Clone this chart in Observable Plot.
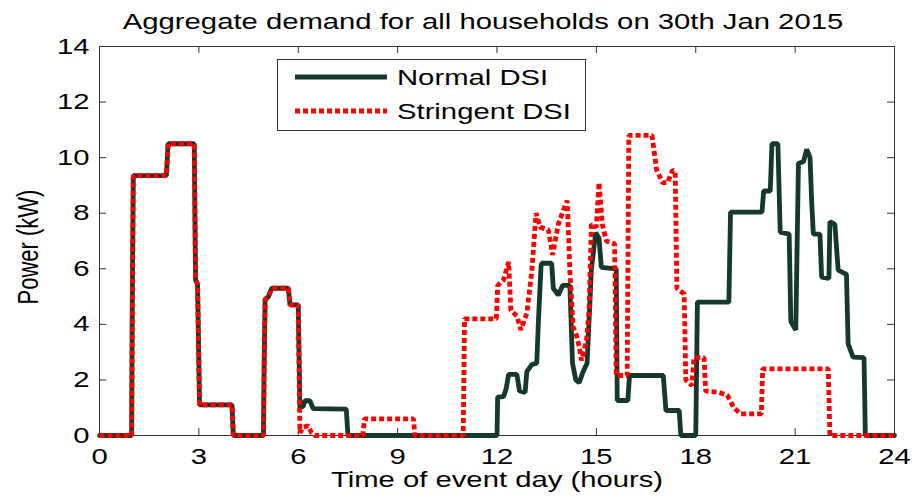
<!DOCTYPE html>
<html>
<head>
<meta charset="utf-8">
<script src="https://cdn.jsdelivr.net/npm/d3@7"></script>
<script src="https://cdn.jsdelivr.net/npm/@observablehq/plot@0.6"></script>
<style>
  body { margin: 0; background: #fff; }
  #chart svg { display: block; }
</style>
</head>
<body>
<div id="chart"></div>
<script>
// Aggregate household demand (kW) over the event day, two DSI settings.
const titleText = "Aggregate demand for all households on 30th Jan 2015";
const xLabel = "Time of event day (hours)";
const yLabel = "Power (kW)";
const seriesNames = ["Normal DSI", "Stringent DSI"];

const xTicks = [0, 3, 6, 9, 12, 15, 18, 21, 24];
const yTicks = [0, 2, 4, 6, 8, 10, 12, 14];

// Normal DSI: hour of day and aggregate power
const normalHour = [
  0, 0.97, 0.99, 1.02, 2.02, 2.07, 2.86, 2.9, 2.96, 3.02, 4.0, 4.04, 4.95, 4.97, 5.0, 5.1, 5.2, 5.7, 5.75, 6.0,
  6.05, 6.15, 6.2, 6.35, 6.45, 7.45, 7.5, 12.0, 12.02, 12.2, 12.28, 12.35, 12.6, 12.68, 12.85, 12.9, 13.05, 13.2,
  13.25, 13.33, 13.35, 13.65, 13.7, 13.85, 13.98, 14.2, 14.28, 14.38, 14.48, 14.6, 14.72, 14.85, 14.98, 15.08,
  15.15, 15.6, 15.63, 15.95, 16.0, 17.02, 17.1, 17.5, 17.55, 18.0, 18.05, 19.0, 19.05, 20.0, 20.05, 20.25, 20.3,
  20.48, 20.55, 20.82, 20.87, 21.02, 21.1, 21.25, 21.35, 21.45, 21.5, 21.55, 21.75, 21.8, 22.02, 22.05, 22.2,
  22.3, 22.55, 22.6, 22.75, 23.08, 23.12, 24
];
const normalPower = [
  0, 0, 4.7, 9.35, 9.35, 10.5, 10.5, 5.6, 5.45, 1.1, 1.1, 0, 0, 2.5, 4.9, 5.0, 5.3, 5.3, 4.7, 4.7,
  1.0, 1.05, 1.25, 1.25, 0.97, 0.95, 0, 0, 1.38, 1.4, 1.7, 2.2, 2.2, 1.6, 1.55, 2.3, 2.55, 2.6,
  4.1, 6.1, 6.2, 6.2, 5.3, 5.05, 5.4, 5.4, 2.6, 2.0, 1.9, 2.3, 2.6, 6.0, 7.3, 7.1,
  6.05, 6.0, 1.26, 1.26, 2.16, 2.16, 0.9, 0.9, 0, 0, 4.8, 4.8, 8.04, 8.04, 8.8, 8.8, 10.5,
  10.5, 7.32, 7.25, 4.1, 3.8, 9.8, 9.85, 10.3, 10.0, 8.4, 7.25, 7.25, 5.7, 5.65, 7.7, 7.6,
  5.95, 5.8, 3.3, 2.82, 2.8, 0, 0
];

// Stringent DSI: hour of day and aggregate power
const stringentHour = [
  0, 0.97, 0.99, 1.02, 2.02, 2.07, 2.86, 2.9, 2.96, 3.02, 4.0, 4.04, 4.95, 4.97, 5.0, 5.1, 5.2, 5.7, 5.75, 6.0,
  6.05, 6.15, 6.3, 6.4, 6.5, 7.95, 8.0, 9.48, 9.52, 10.98, 11.02, 11.98, 12.02, 12.2, 12.35, 12.42, 12.6, 12.72,
  12.9, 13.05, 13.18, 13.3, 13.55, 13.68, 13.85, 14.0, 14.12, 14.2, 14.3, 14.4, 14.48, 14.55, 14.7, 14.78, 14.85,
  15.0, 15.08, 15.18, 15.3, 15.55, 15.6, 15.93, 15.98, 16.68, 16.82, 17.0, 17.15, 17.3, 17.38, 17.43, 17.65,
  17.7, 17.88, 17.95, 18.25, 18.3, 18.7, 18.95, 19.15, 19.35, 19.98, 20.02, 22.0, 22.05, 24
];
const stringentPower = [
  0, 0, 4.7, 9.35, 9.35, 10.5, 10.5, 5.6, 5.45, 1.1, 1.1, 0, 0, 2.5, 4.9, 5.0, 5.3, 5.3, 4.7, 4.7,
  0.1, 0.3, 0.35, 0.1, 0, 0, 0.6, 0.6, 0, 0, 4.2, 4.2, 5.4, 5.6, 6.25, 4.5, 4.3, 3.8,
  4.4, 5.9, 8.0, 7.5, 7.4, 6.5, 7.6, 8.1, 8.45, 5.9, 3.9, 3.6, 3.2, 2.7, 3.4, 4.5, 7.6,
  7.5, 9.1, 7.6, 7.0, 6.9, 2.16, 2.16, 10.8, 10.8, 9.55, 9.1, 9.1, 9.55, 9.5, 5.3, 5.1,
  2.0, 1.8, 2.8, 2.8, 1.6, 1.55, 1.45, 1.0, 0.78, 0.78, 2.4, 2.4, 0, 0
];

const normal = normalHour.map((h, i) => ({hour: h, kw: normalPower[i]}));
const stringent = stringentHour.map((h, i) => ({hour: h, kw: stringentPower[i]}));

const W = 918, H = 504;
const mTop = 46, mBottom = 69, mLeft = 99, mRight = 24;
const frameW = W - mLeft - mRight;
const frameH = H - mTop - mBottom;
const tickLen = 7;
const axisColor = "#333";
const green = "#15392a";
const red = "#ff0000";
const lineW = 4.8;
const dash = "5,3";
const fontFamily = "'Liberation Sans', Arial, Helvetica, sans-serif";
const stretch = 1.33; // glyphs are drawn wide

const chart = Plot.plot({
  width: W,
  height: H,
  marginTop: mTop,
  marginBottom: mBottom,
  marginLeft: mLeft,
  marginRight: mRight,
  style: {fontFamily, fontSize: "22px", color: "#000", background: "#fff", overflow: "visible"},
  x: {domain: [0, 24]},
  y: {domain: [0, 14]},
  marks: [
    Plot.axisX(xTicks, {tickSize: 0, tickPadding: 13, label: null, tickFormat: d => String(d), fill: "#000"}),
    Plot.axisY(yTicks, {tickSize: 0, tickPadding: 10, label: null, tickFormat: d => String(d), fill: "#000"}),
    // inward ticks on all four sides of the box
    Plot.tickX(xTicks, {x: d => d, insetTop: frameH - tickLen, stroke: axisColor}),
    Plot.tickX(xTicks, {x: d => d, insetBottom: frameH - tickLen, stroke: axisColor}),
    Plot.tickY(yTicks, {y: d => d, insetRight: frameW - tickLen, stroke: axisColor}),
    Plot.tickY(yTicks, {y: d => d, insetLeft: frameW - tickLen, stroke: axisColor}),
    Plot.frame({stroke: axisColor, strokeWidth: 1}),
    Plot.line(normal, {x: "hour", y: "kw", stroke: green, strokeWidth: lineW, strokeLinejoin: "miter"}),
    Plot.line(stringent, {x: "hour", y: "kw", stroke: red, strokeWidth: lineW,
      strokeDasharray: dash, strokeLinecap: "butt", strokeLinejoin: "miter"}),
    Plot.text([xLabel], {text: d => d, frameAnchor: "bottom", dy: 51, lineAnchor: "bottom", fill: "#000"}),
    Plot.text([yLabel], {text: d => d, frameAnchor: "left", textAnchor: "middle", rotate: -90,
      dx: -62, dy: 6, lineAnchor: "bottom", fill: "#000"}),
    Plot.text([titleText], {text: d => d, frameAnchor: "top", textAnchor: "middle",
      dx: -14, dy: -18, lineAnchor: "bottom", fill: "#000"})
  ]
});

// Legend box in the upper-left of the plotting area
const svg = d3.select(chart);
const lg = svg.append("g").attr("class", "legend")
  .attr("font-family", fontFamily).attr("font-size", 22).attr("text-anchor", "start");
lg.append("rect").attr("x", 277.5).attr("y", 59.5).attr("width", 308).attr("height", 71)
  .attr("fill", "#fff").attr("stroke", axisColor);
const legendRows = [
  {name: seriesNames[0], color: green, dash: null, y: 77},
  {name: seriesNames[1], color: red, dash: dash, y: 111}
];
for (const r of legendRows) {
  lg.append("line").attr("x1", 295).attr("x2", 387).attr("y1", r.y).attr("y2", r.y)
    .attr("stroke", r.color).attr("stroke-width", lineW)
    .attr("stroke-dasharray", r.dash).attr("stroke-linecap", "butt");
  lg.append("text").attr("transform", `translate(397,${r.y + 8})`)
    .attr("text-anchor", "start").attr("fill", "#000").text(r.name);
}

// Widen every glyph: horizontal text stretched in x, rotated text across its baseline
chart.querySelectorAll("text").forEach(t => {
  const tr = t.getAttribute("transform") || "";
  if (/rotate/.test(tr)) t.setAttribute("transform", tr + ` scale(1,${stretch})`);
  else t.setAttribute("transform", tr + ` scale(${stretch},1)`);
});

document.getElementById("chart").append(chart);
</script>
</body>
</html>
